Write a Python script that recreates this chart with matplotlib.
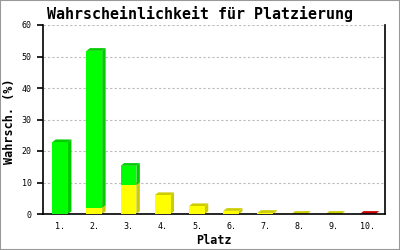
import numpy as np
import matplotlib.pyplot as plt
from matplotlib.patches import Rectangle

# =============================
# Data
# =============================
places = ["1.", "2.", "3.", "4.", "5.", "6.", "7.", "8.", "9.", "10."]
red = [0, 0, 0, 0, 0, 0, 0, 0, 0, 0.05]
yellow = [0, 2.0, 9.2, 6.0, 2.5, 1.0, 0.35, 0.05, 0.05, 0]
green = [22.8, 49.8, 6.1, 0, 0, 0, 0, 0, 0, 0]

series = [
    (red, "#ff0000", "#cc0000"),
    (yellow, "#ffff00", "#cccc00"),
    (green, "#00ff00", "#00cc00"),
]

font = "DejaVu Sans Mono"

# =============================
# Figure
# =============================
fig = plt.figure(figsize=(4, 2.5), dpi=100)
fig.patches.append(Rectangle((0, 0), 1, 1, transform=fig.transFigure,
                             fill=False, edgecolor="#999999", linewidth=1.5))
ax = fig.add_axes([0.1075, 0.144, 0.855, 0.756])
ax.set_xlim(0.5, 10.5)
ax.set_ylim(0, 60)

x = np.arange(1, len(places) + 1)
width = 0.46
# 3D depth (~3.5px right, ~2.7px up) expressed in data units
dx = 0.102
dy = 0.86

bottom = np.zeros(len(places))
for vals, front, side in series:
    vals = np.array(vals)
    ax.bar(x, vals, width, bottom=bottom, color=front, zorder=3)
    for xi, b, v in zip(x, bottom, vals):
        if v <= 0:
            continue
        l, r, t = xi - width / 2, xi + width / 2, b + v
        # top face
        ax.fill([l, r, r + dx, l + dx], [t, t, t + dy, t + dy],
                color=side, linewidth=0, zorder=2)
        # side face
        ax.fill([r, r + dx, r + dx, r], [b, b + dy, t + dy, t],
                color=side, linewidth=0, zorder=2)
    bottom = bottom + vals

# =============================
# Axes styling
# =============================
ax.set_yticks(range(0, 61, 10))
ax.set_xticks(x)
ax.set_xticklabels(places)
ax.set_axisbelow(True)
ax.yaxis.grid(True, color="#bbbbbb", linestyle=(0, (2, 2)), linewidth=0.8)

ax.spines["top"].set_visible(False)
for s in ["left", "right", "bottom"]:
    ax.spines[s].set_linewidth(1.2)

ax.tick_params(axis="y", length=4, width=1.2, pad=4, labelsize=6)
ax.tick_params(axis="x", length=0, pad=6, labelsize=6)
for lab in ax.get_xticklabels() + ax.get_yticklabels():
    lab.set_family(font)

fig.text(0.5, 0.944, "Wahrscheinlichkeit für Platzierung", ha="center", va="center",
         family=font, fontweight="bold", fontsize=10.8)
fig.text(0.025, 0.516, "Wahrsch. (%)", rotation=90, ha="center", va="center",
         family=font, fontweight="bold", fontsize=8.5)
fig.text(0.535, 0.04, "Platz", ha="center", va="center",
         family=font, fontweight="bold", fontsize=8.5)

plt.savefig("out.png", dpi=100)
